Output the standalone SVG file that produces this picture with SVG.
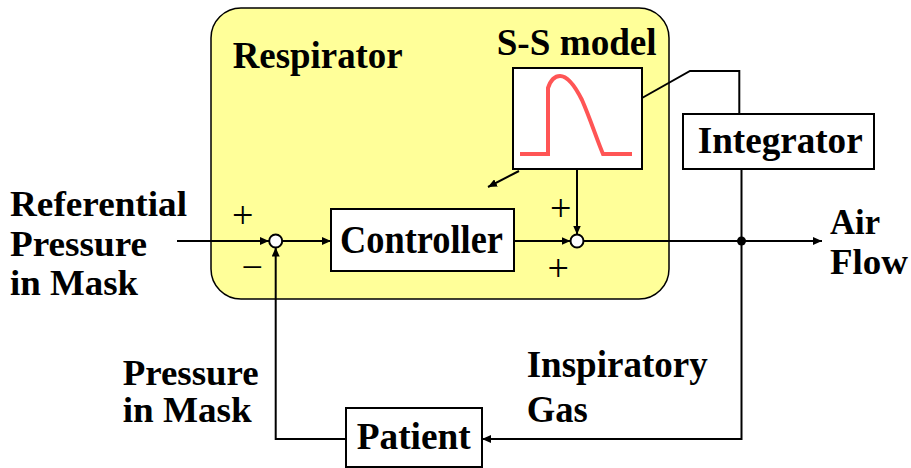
<svg xmlns="http://www.w3.org/2000/svg" width="911" height="468" viewBox="0 0 911 468" font-family="Liberation Serif, serif">
<style>
.t{font-weight:bold;fill:#000}
.s{font-weight:normal;fill:#000;text-anchor:middle}
.box{fill:#fff;stroke:#000;stroke-width:2}
.ln{fill:none;stroke:#000;stroke-width:2}
</style>
<defs>
<marker id="ah" markerUnits="userSpaceOnUse" markerWidth="10" markerHeight="8" refX="9" refY="4" orient="auto">
<path d="M0,0 L9,4 L0,8 z" fill="#000"/>
</marker>
</defs>
<g id="respirator">
<rect x="211" y="8" width="458" height="291" rx="30" ry="30" fill="#FFFF99" stroke="#000" stroke-width="1.5"/>
<text class="t" x="232.7" y="68" font-size="37" textLength="170" lengthAdjust="spacingAndGlyphs">Respirator</text>
</g>
<g id="ss-model">
<text class="t" x="496.7" y="55" font-size="37" textLength="160" lengthAdjust="spacingAndGlyphs">S-S model</text>
<rect class="box" x="513" y="68" width="129" height="101"/>
<path d="M520,154 L548,154 L548,88 C551,79 555,76 560,76 C568,76 575,86 582,100 C590,118 597,140 603,154 L632,154" fill="none" stroke="#FF5555" stroke-width="4"/>
</g>
<g id="integrator">
<rect class="box" x="683" y="114" width="191" height="55"/>
<text class="t" x="697.7" y="153.3" font-size="38" textLength="165" lengthAdjust="spacingAndGlyphs">Integrator</text>
</g>
<g id="controller">
<rect class="box" x="331" y="209" width="183" height="62"/>
<text class="t" x="340" y="253.3" font-size="39" textLength="163" lengthAdjust="spacingAndGlyphs">Controller</text>
</g>
<g id="patient">
<rect class="box" x="346" y="408" width="136" height="59"/>
<text class="t" x="356.7" y="449" font-size="38" textLength="114" lengthAdjust="spacingAndGlyphs">Patient</text>
</g>
<g id="sum1">
<circle cx="275.7" cy="241" r="6.5" fill="#fff" stroke="#000" stroke-width="2"/>
<text class="s" x="242.7" y="228" font-size="38">+</text>
<text class="s" x="252.3" y="279.6" font-size="38">−</text>
</g>
<g id="sum2">
<circle cx="577" cy="241" r="6.5" fill="#fff" stroke="#000" stroke-width="2"/>
<text class="s" x="560.7" y="221.3" font-size="38">+</text>
<text class="s" x="558.3" y="280.6" font-size="38">+</text>
</g>
<g id="labels">
<text class="t" x="10" y="216" font-size="36" textLength="177" lengthAdjust="spacingAndGlyphs">Referential</text>
<text class="t" x="10" y="256" font-size="36" textLength="137" lengthAdjust="spacingAndGlyphs">Pressure</text>
<text class="t" x="10" y="295" font-size="36" textLength="128" lengthAdjust="spacingAndGlyphs">in Mask</text>
<text class="t" x="830" y="234" font-size="36" textLength="50" lengthAdjust="spacingAndGlyphs">Air</text>
<text class="t" x="830" y="274" font-size="36" textLength="78" lengthAdjust="spacingAndGlyphs">Flow</text>
<text class="t" x="122.7" y="385" font-size="35" textLength="136" lengthAdjust="spacingAndGlyphs">Pressure</text>
<text class="t" x="122.7" y="422" font-size="35" textLength="129" lengthAdjust="spacingAndGlyphs">in Mask</text>
<text class="t" x="526.7" y="377" font-size="38" textLength="181" lengthAdjust="spacingAndGlyphs">Inspiratory</text>
<text class="t" x="526.7" y="421.7" font-size="38" textLength="61" lengthAdjust="spacingAndGlyphs">Gas</text>
</g>
<g id="connectors">
<line class="ln" x1="177" y1="241" x2="269" y2="241" marker-end="url(#ah)"/>
<line class="ln" x1="282.2" y1="241" x2="331" y2="241" marker-end="url(#ah)"/>
<line class="ln" x1="514" y1="241" x2="570.5" y2="241" marker-end="url(#ah)"/>
<line class="ln" x1="577" y1="169" x2="577" y2="234.5" marker-end="url(#ah)"/>
<line class="ln" x1="583.5" y1="241" x2="822" y2="241" marker-end="url(#ah)"/>
<line class="ln" x1="519" y1="171" x2="488" y2="187" marker-end="url(#ah)"/>
<polyline class="ln" points="642,98 690,71 739.3,71 739.3,114"/>
<polyline class="ln" points="741.5,169 741.5,439 482,439" marker-end="url(#ah)"/>
<polyline class="ln" points="346,439 275.7,439 275.7,247.5" marker-end="url(#ah)"/>
<circle cx="741.5" cy="241" r="4.5" fill="#000"/>
</g>
</svg>
